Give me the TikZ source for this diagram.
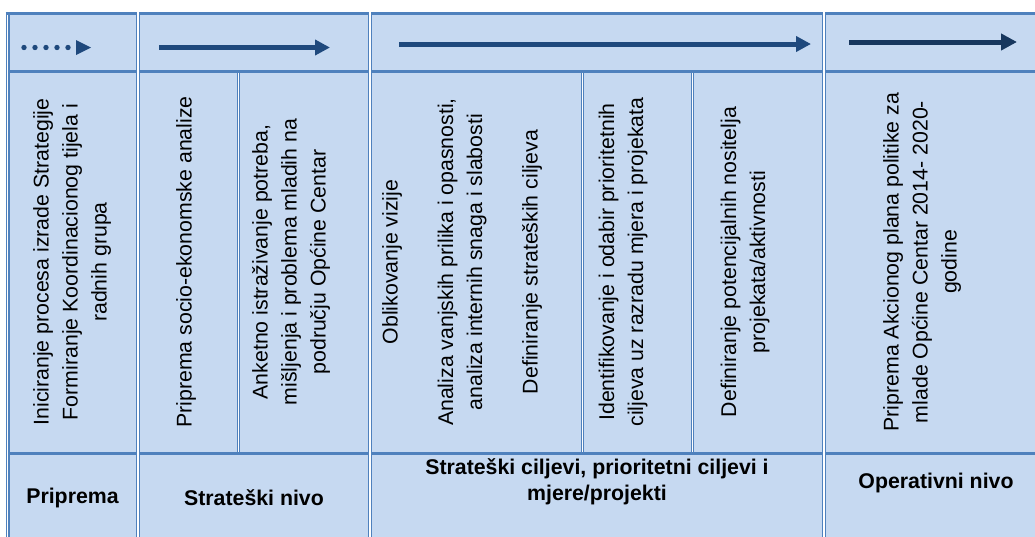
\documentclass[tikz,border=0pt]{standalone}
\usepackage{fontspec}
\setmainfont{Liberation Sans}
\usetikzlibrary{arrows.meta}
\definecolor{cellfill}{HTML}{C6D9F1}
\definecolor{rule}{HTML}{4F81BD}
\definecolor{arrowc}{HTML}{1F497D}
\definecolor{arrowd}{HTML}{17375E}
\begin{document}
\begin{tikzpicture}[x=1pt,y=-1pt,
  rot/.style={rotate=90, align=center, inner sep=0pt, font={\fontsize{21.3}{29}\selectfont}},
  lab/.style={align=center, inner sep=0pt, font={\fontsize{21.3}{26}\selectfont\bfseries}},
  hrule/.style={draw=rule, line width=3pt},
  vblue/.style={draw=rule, line width=4.4pt},
  vwhite/.style={draw=white, line width=1.3pt},
  iblue/.style={draw=rule, line width=3pt},
  iwhite/.style={draw=white, line width=1.3pt},
  flow/.style={draw=arrowc, line width=5pt, -{Triangle[length=15pt,width=15pt]}},
  flowd/.style={draw=arrowd, line width=5pt, -{Triangle[length=16pt,width=16pt]}}
]
\useasboundingbox (0,0) rectangle (1035,536);
\clip (0,0) rectangle (1035,536);

% cell background
\fill[cellfill] (9,12) rectangle (1060,570);

% horizontal rules
\draw[hrule] (5.5,13.5) -- (1060,13.5);
\draw[hrule] (9,71) -- (1060,71);
\draw[hrule] (9,453.5) -- (1060,453.5);

% left edge (double)
\draw[draw=rule, line width=1.2pt] (6.4,12) -- (6.4,570);
\draw[draw=rule, line width=2.4pt] (9.2,12) -- (9.2,570);

% inner splits in row 2
\foreach \xx in {238.5,582.5,692.5}{
  \draw[iblue] (\xx,71) -- (\xx,453.5);
}
% main column separators
\foreach \xx in {138,370,824}{
  \draw[vblue] (\xx,12) -- (\xx,570);
}
\foreach \xx in {238.2,582.2,692.2}{
  \draw[iwhite] (\xx,72.5) -- (\xx,452);
}
\foreach \xx in {138,370,824}{
  \draw[vwhite] (\xx,12) -- (\xx,570);
}

% arrows in header row
\coordinate (d1) at (24,47.5);
\coordinate (d2) at (70,47.5);
\coordinate (h1b) at (76,40);
\coordinate (h1t) at (91,47.5);
\coordinate (h1c) at (76,55);
\draw[draw=arrowc, line width=5.4pt, line cap=round, dash pattern=on 0pt off 11pt] (d1) -- (d2);
\fill[arrowc] (h1b) -- (h1t) -- (h1c) -- cycle;

\coordinate (a2s) at (159,47.5);
\coordinate (a2e) at (330,47.5);
\draw[flow] (a2s) -- (a2e);

\coordinate (a3s) at (399,44);
\coordinate (a3e) at (811,44);
\draw[flow] (a3s) -- (a3e);

\coordinate (a4s) at (849,42);
\coordinate (a4e) at (1017,42);
\draw[flowd] (a4s) -- (a4e);

% rotated texts
\node[rot] (t1) at (72,262) {Iniciranje procesa izrade Strategije\\Formiranje Koordinacionog tijela i\\radnih grupa};
\node[rot] (t2) at (186,262) {Priprema socio-ekonomske analize};
\node[rot] (t3) at (291,262) {Anketno istraživanje potreba,\\mišljenja i problema mladih na\\području Općine Centar};
\node[rot] (t4) at (392,262) {Oblikovanje vizije};
\node[rot] (t5) at (462,262) {Analiza vanjskih prilika i opasnosti,\\analiza internih snaga i slabosti};
\node[rot] (t6) at (532,262) {Definiranje strateških ciljeva};
\node[rot] (t7) at (623,262) {Identifikovanje i odabir prioritetnih\\ciljeva uz razradu mjera i projekata};
\node[rot] (t8) at (745,262) {Definiranje potencijalnih nositelja\\projekata/aktivnosti};
\node[rot] (t9) at (922,262) {Priprema Akcionog plana politike za\\mlade Općine Centar 2014- 2020-\\godine};

% bottom labels
\node[lab] (b1) at (72.5,498) {Priprema};
\node[lab] (b2) at (254,498) {Strateški nivo};
\node[lab] (b3) at (597,482) {Strateški ciljevi, prioritetni ciljevi i\\mjere/projekti};
\node[lab] (b4) at (936,483) {Operativni nivo};
\end{tikzpicture}
\end{document}
